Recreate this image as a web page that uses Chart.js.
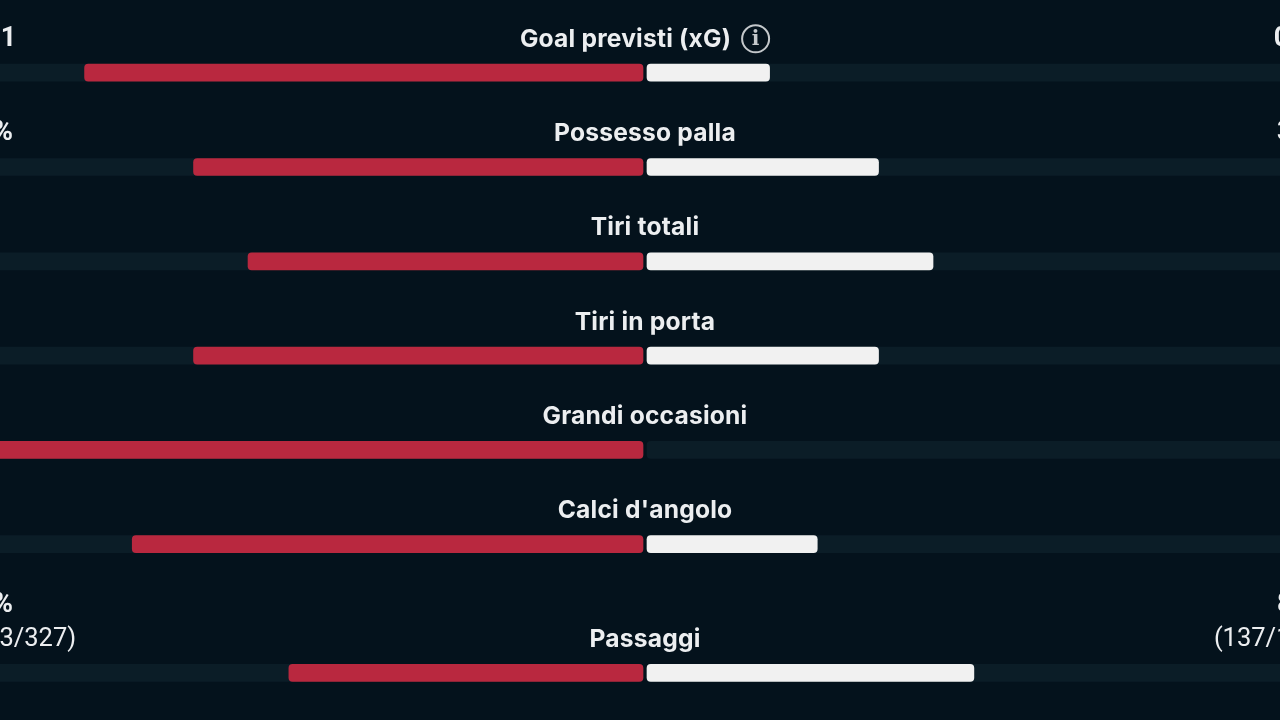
<!DOCTYPE html>
<html>
<head>
<meta charset="utf-8">
<title>Statistiche partita</title>
<script src="https://cdn.jsdelivr.net/npm/chart.js@4"></script>
<style>
    html, body { margin: 0; padding: 0; background: #04121c; overflow: hidden; }
    canvas { display: block; }
</style>
</head>
<body>
<canvas id="myChart" width="1280" height="720"></canvas>
<script>
const categorie = ["Goal previsti (xG)", "Possesso palla", "Tiri totali", "Tiri in porta", "Grandi occasioni", "Calci d'angolo", "Passaggi"];
const quotaCasa = [82, 66, 58, 66, 100, 75, 52];
const quotaOspiti = [18, 34, 42, 34, 0, 25, 48];
const testoCasa = ["2.31", "66%", "", "", "", "", "93%"];
const testoOspiti = ["0.51", "34%", "", "", "", "", "85%"];
const dettaglioCasa = ["", "", "", "", "", "", "(303/327)"];
const dettaglioOspiti = ["", "", "", "", "", "", "(137/161)"];

const MEZZO_STACCO = 0.294;
const PX_RIGA = 94.3;
const SALTO_ULTIMA = 0.365;
const SU_ETICHETTA = 33.4;
const SU_TESTO = 67.4;

// the last row sits lower because it has a second line of text
function riga(i) {
    return i === categorie.length - 1 ? i + SALTO_ULTIMA : i;
}

const fontTitolo = '700 24.6px Inter, Roboto, sans-serif';
const fontValore = '700 27px Roboto, sans-serif';
const fontDettaglio = '400 25.5px Roboto, sans-serif';

const etichette = {
    id: 'etichette',
    afterDatasetsDraw(chart) {
        const ctx = chart.ctx;
        const x = chart.scales.x;
        const y = chart.scales.y;
        const centro = x.getPixelForValue(0);
        const xCasa = x.getPixelForValue(-100 - MEZZO_STACCO);
        const xOspiti = x.getPixelForValue(100 + MEZZO_STACCO);
        ctx.save();
        ctx.textBaseline = 'middle';
        ctx.fillStyle = '#eceef0';
        categorie.forEach((nome, i) => {
            const py = y.getPixelForValue(riga(i));
            ctx.font = fontTitolo;
            ctx.letterSpacing = '0.2px';
            const yTitolo = py - SU_ETICHETTA;
            if (i === 0) {
                // title and info icon are centred together
                const w = ctx.measureText(nome).width;
                const tot = w + 10 + 29;
                const inizio = centro - tot / 2;
                ctx.textAlign = 'left';
                ctx.fillText(nome, inizio, yTitolo);
                const cx = inizio + w + 10 + 14.5;
                const cy = yTitolo - 0.5;
                ctx.strokeStyle = '#c4c8cb';
                ctx.lineWidth = 2;
                ctx.beginPath();
                ctx.arc(cx, cy, 13.5, 0, Math.PI * 2);
                ctx.stroke();
                ctx.fillStyle = '#c4c8cb';
                ctx.font = '700 20px "DejaVu Serif", serif';
                ctx.textAlign = 'center';
                ctx.fillText('i', cx, cy + 1);
                ctx.fillStyle = '#eceef0';
            } else {
                ctx.textAlign = 'center';
                ctx.fillText(nome, centro, yTitolo);
            }
            ctx.letterSpacing = '0px';
            const ySopra = dettaglioCasa[i] ? py - SU_TESTO : yTitolo;
            ctx.font = fontValore;
            ctx.textAlign = 'left';
            ctx.fillText(testoCasa[i], xCasa, ySopra);
            ctx.textAlign = 'right';
            ctx.fillText(testoOspiti[i], xOspiti, ySopra);
            ctx.font = fontDettaglio;
            ctx.textAlign = 'left';
            ctx.fillText(dettaglioCasa[i], xCasa, yTitolo);
            ctx.textAlign = 'right';
            ctx.fillText(dettaglioOspiti[i], xOspiti, yTitolo);
        });
        ctx.restore();
    }
};

const ctx = document.getElementById('myChart').getContext('2d');
const myChart = new Chart(ctx, {
    type: 'bar',
    plugins: [etichette],
    data: {
        datasets: [
            {
                label: 'Casa',
                data: quotaCasa.map((v, i) => ({ x: [-MEZZO_STACCO - v, -MEZZO_STACCO], y: riga(i) })),
                backgroundColor: '#b9283f',
                order: 1
            },
            {
                label: 'Ospiti',
                // a zero share draws nothing, not even a hairline
                data: quotaOspiti.map((v, i) => ({ x: v ? [MEZZO_STACCO, MEZZO_STACCO + v] : null, y: riga(i) })),
                backgroundColor: '#f1f1f1',
                order: 1
            },
            {
                label: 'Fondo casa',
                data: categorie.map((c, i) => ({ x: [-MEZZO_STACCO - 100, -MEZZO_STACCO], y: riga(i) })),
                backgroundColor: '#0b1d27',
                order: 2
            },
            {
                label: 'Fondo ospiti',
                data: categorie.map((c, i) => ({ x: [MEZZO_STACCO, MEZZO_STACCO + 100], y: riga(i) })),
                backgroundColor: '#0b1d27',
                order: 2
            }
        ]
    },
    options: {
        indexAxis: 'y',
        responsive: false,
        animation: false,
        maintainAspectRatio: false,
        layout: { padding: 0 },
        datasets: {
            bar: {
                grouped: false,
                barThickness: 17,
                borderRadius: 4,
                borderSkipped: false,
                borderWidth: 0
            }
        },
        plugins: {
            legend: { display: false },
            tooltip: { enabled: false }
        },
        scales: {
            x: { type: 'linear', min: -645 / 6.81, max: 635 / 6.81, display: false },
            y: { type: 'linear', offset: false, reverse: true, min: -72.7 / PX_RIGA, max: (720 - 72.7) / PX_RIGA, display: false }
        }
    }
});
</script>
</body>
</html>
